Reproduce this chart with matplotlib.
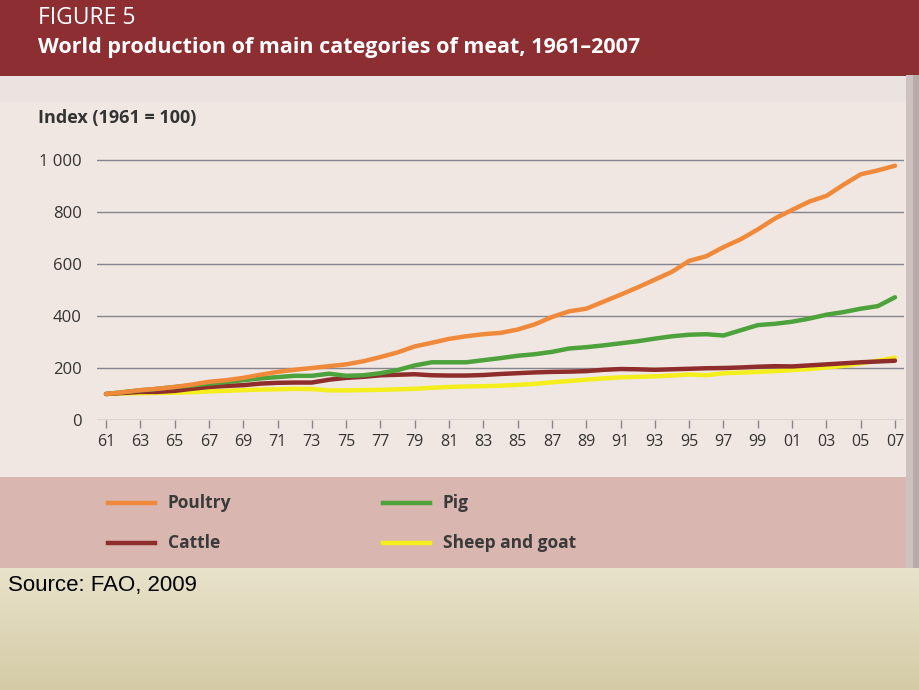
import matplotlib.pyplot as plt
import numpy as np
from matplotlib.patches import Rectangle
from matplotlib.lines import Line2D

# Years 1961-2007, index 1961 = 100
years = list(range(1961, 2008))

poultry = [100, 107, 115, 120, 127, 136, 147, 153, 162, 174,
           185, 193, 200, 207, 214, 226, 242, 260, 283, 297,
           312, 322, 330, 335, 348, 368, 396, 418, 428, 455,
           482, 510, 540, 570, 612, 630, 665, 695, 733, 775,
           808, 840, 862, 905, 945, 960, 978]

pig = [100, 107, 114, 120, 127, 133, 140, 146, 153, 160,
       165, 170, 170, 178, 170, 172, 180, 192, 210, 222,
       222, 222, 230, 238, 247, 253, 262, 275, 280, 287,
       295, 303, 313, 322, 328, 330, 325, 345, 365, 370,
       378, 390, 405, 415, 428, 438, 472]

cattle = [100, 104, 108, 108, 112, 120, 127, 131, 134, 140,
          143, 144, 144, 155, 162, 166, 172, 174, 176, 172,
          171, 171, 173, 177, 180, 183, 185, 186, 188, 193,
          196, 195, 193, 195, 197, 199, 200, 202, 205, 207,
          206, 210, 214, 218, 222, 225, 228]

sheep_goat = [100, 102, 103, 104, 105, 107, 110, 112, 115, 117,
              118, 120, 119, 114, 114, 115, 116, 118, 120, 124,
              127, 129, 130, 132, 135, 139, 145, 150, 155, 160,
              164, 166, 168, 171, 175, 172, 180, 182, 185, 188,
              192, 196, 202, 208, 218, 228, 240]

series = [("Poultry", poultry, "#F0893A"),
          ("Pig", pig, "#4DA23C"),
          ("Cattle", cattle, "#8E2D2B"),
          ("Sheep and goat", sheep_goat, "#F4EE1C")]

y_ticks = [0, 200, 400, 600, 800, 1000]
y_labels = ["0", "200", "400", "600", "800", "1 000"]
x_ticks = list(range(1961, 2008, 2))

W, H = 920, 690
fig = plt.figure(figsize=(W / 100, H / 100), dpi=100)
plt.rcParams['font.family'] = ['Open Sans', 'DejaVu Sans']


def box(x0, y0, x1, y1, color, z=0):
    # rectangle given in pixel coords measured from the top-left corner
    fig.patches.append(Rectangle((x0 / W, 1 - y1 / H), (x1 - x0) / W, (y1 - y0) / H,
                                 transform=fig.transFigure, facecolor=color,
                                 edgecolor='none', zorder=z))


# Background bands
box(0, 75, W, 477, "#F0E7E2")
box(0, 75, W, 102, "#EBE3DF")
box(0, 0, W, 76, "#8C2E32")
box(0, 477, W, 568, "#D9B6AF")

# Bottom beige gradient
bg = fig.add_axes([0, 0, 1, (H - 568) / H], zorder=0)
grad = np.linspace(0, 1, 100).reshape(-1, 1)
top_c = np.array([232, 226, 202]) / 255
bot_c = np.array([212, 203, 166]) / 255
img = top_c * (1 - grad[..., None]) + bot_c * grad[..., None]
bg.imshow(img, aspect='auto', extent=[0, 1, 0, 1])
bg.set_axis_off()

# Scan edge on the right
box(906, 75, W, 568, "#CDC2C0")
box(913, 75, W, 568, "#B8ABA9")

# Header text
fig.text(38 / W, 1 - 18 / H, "FIGURE 5", color="white", fontsize=16.5,
         va="center", ha="left")
fig.text(38 / W, 1 - 48 / H, "World production of main categories of meat, 1961–2007",
         color="white", fontsize=15.5, fontweight="bold", va="center", ha="left")

# Main chart axes: 0 at y=420px, 1961 at x=106px, 2007 at x=895px
px_per_year = (895 - 106) / 46
ax_left, ax_right = 97, 904
ax_top, ax_bot = 150, 420
val_per_px = 1000 / 260
ax = fig.add_axes([ax_left / W, 1 - ax_bot / H, (ax_right - ax_left) / W,
                   (ax_bot - ax_top) / H], zorder=2)
ax.set_facecolor("none")
ax.set_xlim(1961 - (106 - ax_left) / px_per_year, 2007 + (ax_right - 895) / px_per_year)
ax.set_ylim(0, (ax_bot - ax_top) * val_per_px)

for name, vals, col in series[::-1]:
    ax.plot(years, vals, color=col, lw=3.2, solid_capstyle='round',
            solid_joinstyle='round', zorder=3)

ax.set_yticks(y_ticks)
ax.set_yticklabels(y_labels)
ax.set_xticks(x_ticks)
ax.set_xticklabels([f"{y % 100:02d}" for y in x_ticks])
ax.tick_params(axis='y', length=0, pad=11, labelsize=12, labelcolor="#333333")
ax.tick_params(axis='x', length=6, width=1, color="#85858F", pad=4,
               labelsize=11.5, labelcolor="#333333")
ax.yaxis.grid(True, color="#85858F", lw=1)
ax.set_axisbelow(True)
for s in ax.spines.values():
    s.set_visible(False)

fig.text(38 / W, 1 - 118 / H, "Index (1961 = 100)", fontsize=13,
         fontweight="bold", color="#333333", va="center", ha="left")

# Legend drawn by hand in two columns
leg_pos = [(108, 503), (383, 503), (108, 543), (383, 543)]
for (name, vals, col), (lx, ly) in zip(series, leg_pos):
    fig.lines.append(Line2D([lx / W, (lx + 47) / W], [1 - ly / H, 1 - ly / H],
                            transform=fig.transFigure, color=col, lw=3.2, zorder=3))
    fig.text((lx + 60) / W, 1 - ly / H, name, fontsize=12.5, fontweight="bold",
             color="#3A3A3A", va="center", ha="left", zorder=3)

fig.text(8 / W, 1 - 585 / H, "Source: FAO, 2009", fontsize=16,
         family=["Liberation Sans", "DejaVu Sans"], color="black",
         va="center", ha="left")

fig.savefig("out.png", dpi=100)
